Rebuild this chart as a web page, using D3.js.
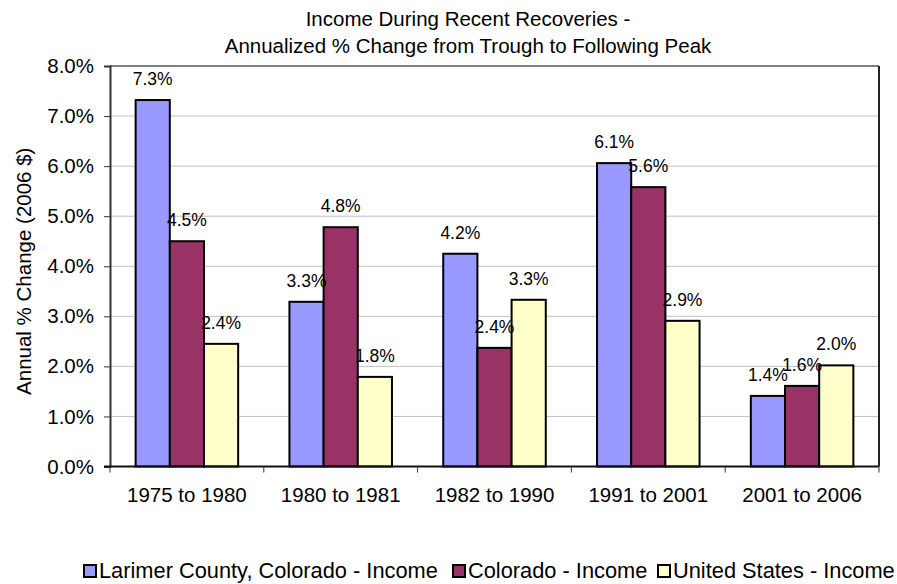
<!DOCTYPE html>
<html>
<head>
<meta charset="utf-8">
<script src="https://cdn.jsdelivr.net/npm/d3@7"></script>
<style>
  html, body { margin: 0; padding: 0; background: #fff; }
  svg { display: block; font-family: "Liberation Sans", Arial, Helvetica, sans-serif; }
</style>
</head>
<body>
<svg id="chart" width="897" height="584"></svg>
<script>
const titleLines = ["Income During Recent Recoveries -", "Annualized % Change from Trough to Following Peak"];
const yAxisTitle = "Annual % Change (2006 $)";
const categories = ["1975 to 1980", "1980 to 1981", "1982 to 1990", "1991 to 2001", "2001 to 2006"];
const seriesNames = ["Larimer County, Colorado - Income", "Colorado - Income", "United States - Income"];
const larimer = [7.32, 3.29, 4.25, 6.06, 1.41];
const colorado = [4.50, 4.78, 2.37, 5.58, 1.61];
const unitedStates = [2.45, 1.79, 3.33, 2.91, 2.02];
const dataLabels = [
  ["7.3%", "3.3%", "4.2%", "6.1%", "1.4%"],
  ["4.5%", "4.8%", "2.4%", "5.6%", "1.6%"],
  ["2.4%", "1.8%", "3.3%", "2.9%", "2.0%"]
];
const yTicks = [0, 1, 2, 3, 4, 5, 6, 7, 8];
const colors = ["#9999FF", "#993366", "#FFFFCC"];

const seriesValues = [larimer, colorado, unitedStates];
const svg = d3.select("#chart");

const plot = { left: 110, right: 879, top: 66, bottom: 466.5 };

const x = d3.scaleBand().domain(categories).range([plot.left, plot.right]).paddingInner(0).paddingOuter(0);
const bw = x.bandwidth();
const xs = d3.scaleBand().domain(d3.range(seriesNames.length)).range([bw / 6, bw - bw / 6]).padding(0);
const y = d3.scaleLinear().domain([0, 8]).range([plot.bottom, plot.top]);

// gridlines
svg.append("g").selectAll("line").data(yTicks.filter(d => d > 0 && d < 8)).join("line")
  .attr("x1", plot.left).attr("x2", plot.right)
  .attr("y1", d => y(d)).attr("y2", d => y(d))
  .attr("stroke", "#c0c0c0").attr("stroke-width", 1);

// top border
svg.append("line").attr("x1", plot.left).attr("x2", plot.right)
  .attr("y1", y(8)).attr("y2", y(8)).attr("stroke", "#808080").attr("stroke-width", 2);
// right border
svg.append("line").attr("x1", plot.right).attr("x2", plot.right)
  .attr("y1", y(8)).attr("y2", y(0)).attr("stroke", "#222").attr("stroke-width", 2);

// bars
const groups = svg.append("g").selectAll("g").data(seriesValues).join("g")
  .attr("fill", (d, i) => colors[i]);
groups.each(function (vals, si) {
  d3.select(this).selectAll("rect").data(vals).join("rect")
    .attr("x", (d, ci) => x(categories[ci]) + xs(si))
    .attr("y", d => y(d))
    .attr("width", xs.bandwidth())
    .attr("height", d => y(0) - y(d))
    .attr("stroke", "#000").attr("stroke-width", 2);
});

// y axis
const yAxis = d3.axisLeft(y).tickValues(yTicks).tickSize(6).tickPadding(10)
  .tickFormat(d => d3.format(".1f")(d) + "%");
const gy = svg.append("g").attr("transform", `translate(${plot.left},0)`).call(yAxis);
gy.select(".domain").attr("stroke", "#333").attr("stroke-width", 2);
gy.selectAll(".tick line").attr("stroke", "#333");
gy.selectAll(".tick text").attr("font-size", 20.5).attr("fill", "#000")
  .attr("font-family", "Liberation Sans, Arial, sans-serif");

// x axis
const gx = svg.append("g").attr("transform", `translate(0,${plot.bottom})`);
gx.append("line").attr("x1", plot.left - 6).attr("x2", plot.right)
  .attr("y1", 0).attr("y2", 0).attr("stroke", "#111").attr("stroke-width", 2);
const bounds = categories.map(c => x(c)).concat([plot.right]);
gx.selectAll("line.tk").data(bounds).join("line").attr("class", "tk")
  .attr("x1", d => d).attr("x2", d => d).attr("y1", 0).attr("y2", 6)
  .attr("stroke", "#333").attr("stroke-width", 1);
gx.selectAll("text").data(categories).join("text")
  .attr("x", d => x(d) + bw / 2).attr("y", 35)
  .attr("text-anchor", "middle").attr("font-size", 20.5).attr("fill", "#000")
  .text(d => d);

// data labels
const lblG = svg.append("g");
seriesValues.forEach((vals, si) => {
  lblG.selectAll(null).data(vals).join("text")
    .attr("x", (d, ci) => x(categories[ci]) + xs(si) + xs.bandwidth() / 2)
    .attr("y", d => y(d) - 15)
    .attr("text-anchor", "middle").attr("font-size", 17.5).attr("fill", "#000")
    .text((d, ci) => dataLabels[si][ci]);
});

// title
svg.append("g").selectAll("text").data(titleLines).join("text")
  .attr("x", 468).attr("y", (d, i) => 26 + i * 27)
  .attr("text-anchor", "middle").attr("font-size", 20.5).attr("fill", "#000")
  .text(d => d);

// y axis title
svg.append("text").attr("transform", `translate(31,${(plot.top + plot.bottom) / 2 + 5}) rotate(-90)`)
  .attr("text-anchor", "middle").attr("font-size", 20.5).attr("fill", "#000")
  .text(yAxisTitle);

// legend
const legendStarts = [84, 453, 658];
const lg = svg.append("g").selectAll("g").data(seriesNames).join("g")
  .attr("transform", (d, i) => `translate(${legendStarts[i]},565)`);
lg.append("rect").attr("x", 0).attr("y", 0).attr("width", 12).attr("height", 12)
  .attr("fill", (d, i) => colors[i]).attr("stroke", "#000").attr("stroke-width", 2);
lg.append("text").attr("x", 15).attr("y", 13).attr("font-size", 21.8).attr("fill", "#000")
  .text(d => d);
</script>
</body>
</html>
